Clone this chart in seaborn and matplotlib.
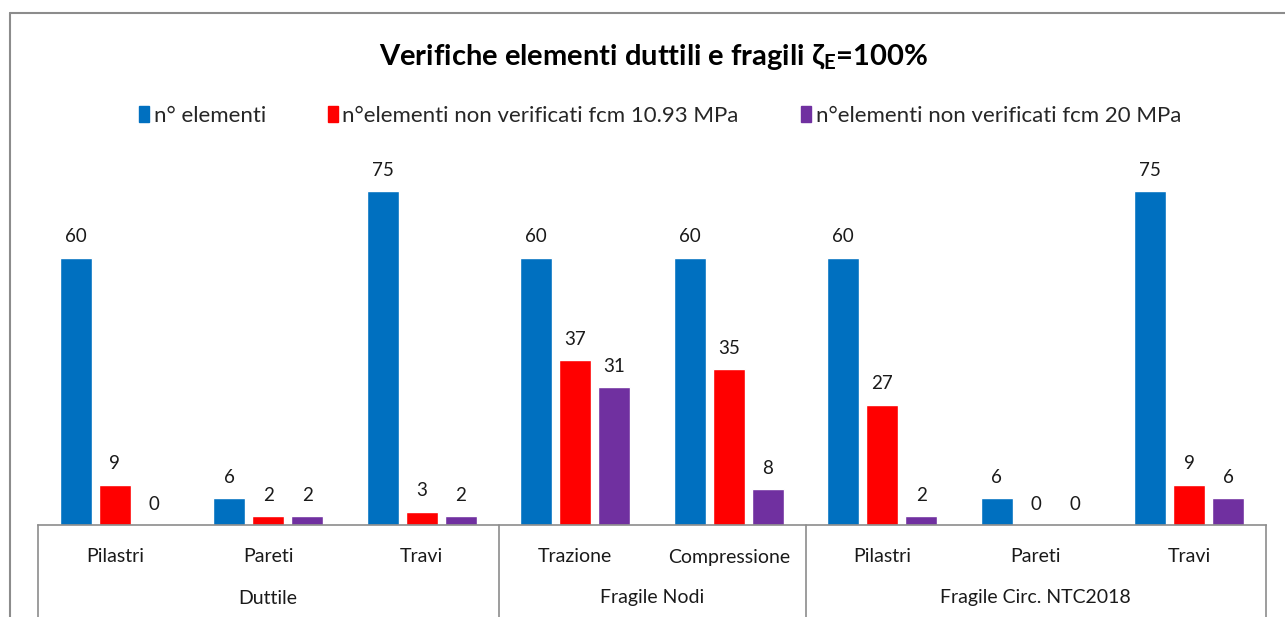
import matplotlib
matplotlib.use("Agg")
import matplotlib.pyplot as plt
import seaborn as sns
import pandas as pd
from matplotlib.lines import Line2D
from matplotlib.patches import Rectangle

# ---- data ----
groups = ["Duttile", "Duttile", "Duttile", "Fragile Nodi", "Fragile Nodi",
          "Fragile Circ. NTC2018", "Fragile Circ. NTC2018", "Fragile Circ. NTC2018"]
subcats = ["Pilastri", "Pareti", "Travi", "Trazione", "Compressione",
           "Pilastri", "Pareti", "Travi"]
series_names = ["n° elementi",
                "n°elementi non verificati fcm 10.93 MPa",
                "n°elementi non verificati fcm 20 MPa"]
n_elementi = [60, 6, 75, 60, 60, 60, 6, 75]
non_ver_1093 = [9, 2, 3, 37, 35, 27, 0, 9]
non_ver_20 = [0, 2, 2, 31, 8, 2, 0, 6]
colors = ["#0070C0", "#FF0000", "#7030A0"]
title = "Verifiche elementi duttili e fragili $\\mathbf{\\zeta_E}$=100%"

keys = [f"{g}|{s}" for g, s in zip(groups, subcats)]
rows = []
for name, vals in zip(series_names, [n_elementi, non_ver_1093, non_ver_20]):
    for k, v in zip(keys, vals):
        rows.append({"cat": k, "serie": name, "val": v})
df = pd.DataFrame(rows)

sns.set_theme(style="white")
plt.rcParams["font.family"] = ["Lato", "DejaVu Sans"]
plt.rcParams["mathtext.fontset"] = "custom"
plt.rcParams["mathtext.rm"] = "Lato"
plt.rcParams["mathtext.it"] = "Lato:italic"
plt.rcParams["mathtext.bf"] = "Lato:bold"

W, H = 1285, 617
fig = plt.figure(figsize=(W / 100, H / 100), dpi=100)
fig.patch.set_facecolor("white")

x0, x1 = 38, 1266
y_base, y_top = 525, 169
ax = fig.add_axes([x0 / W, (H - y_base) / H, (x1 - x0) / W, (y_base - y_top) / H])

sns.barplot(data=df, x="cat", y="val", hue="serie", order=keys,
            hue_order=series_names, palette=colors, width=0.76, gap=0.18,
            saturation=1, ax=ax, legend=False, errorbar=None)
ax.set_ylim(0, 80)
ax.set_xlim(-0.5, len(keys) - 0.5)
for sp in ["top", "right", "left"]:
    ax.spines[sp].set_visible(False)
ax.spines["bottom"].set_color("#8c8c8c")
ax.spines["bottom"].set_linewidth(1.2)
ax.set_yticks([])
ax.set_xticks([])
ax.set_xlabel("")
ax.set_ylabel("")

for cont in ax.containers:
    ax.bar_label(cont, padding=9, fontsize=13.5, color="#1a1a1a")

# hierarchical category axis
trans = ax.get_xaxis_transform()
y_lab1 = (y_base - 557) / (y_base - y_top)
y_lab2 = (y_base - 598) / (y_base - y_top)
y_bot = (y_base - 617) / (y_base - y_top)
for i, s in enumerate(subcats):
    ax.text(i, y_lab1, s, transform=trans, ha="center", va="center", fontsize=14,
            color="#1a1a1a")
# group spans
spans = []
start = 0
for i in range(1, len(groups) + 1):
    if i == len(groups) or groups[i] != groups[start]:
        spans.append((start, i - 1, groups[start]))
        start = i
for a, b, g in spans:
    ax.text((a + b) / 2, y_lab2, g, transform=trans, ha="center", va="center",
            fontsize=14, color="#1a1a1a")
bounds = [-0.5] + [b + 0.5 for a, b, g in spans]
for xb in bounds:
    ax.add_line(Line2D([xb, xb], [0, y_bot], transform=trans, color="#8c8c8c",
                       lw=1.2, clip_on=False))

# title
fig.text(653 / W, 1 - 57 / H, title, ha="center", va="center", fontsize=21,
         fontweight="bold", color="black")

# legend
handles = [Rectangle((0, 0), 1, 1, color=c) for c in colors]
fig.legend(handles, series_names, loc="center", bbox_to_anchor=(660 / W, 1 - 116 / H),
           ncol=3, frameon=False, fontsize=16, handlelength=0.45, handleheight=0.7,
           handletextpad=0.2, columnspacing=2.8)

# outer chart border
fig.add_artist(Line2D([10 / W, 10 / W], [0, 1 - 13 / H], transform=fig.transFigure,
                      color="#8c8c8c", lw=1.5))
fig.add_artist(Line2D([10 / W, 1], [1 - 13 / H, 1 - 13 / H], transform=fig.transFigure,
                      color="#8c8c8c", lw=1.5))

fig.savefig("out.png", dpi=100, facecolor="white")
